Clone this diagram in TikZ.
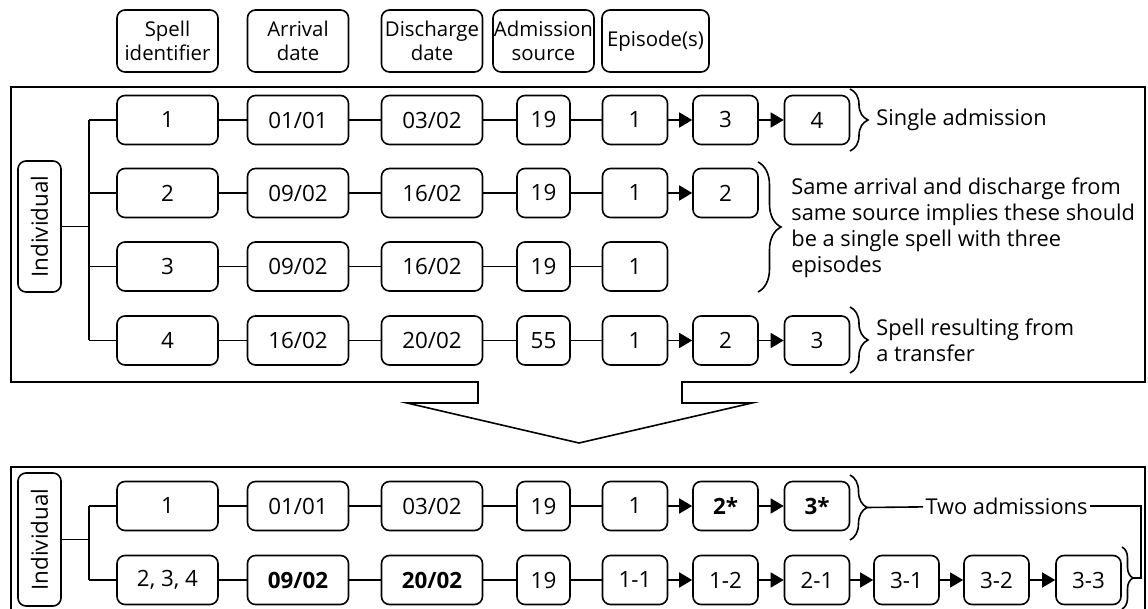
\documentclass[tikz,border=0pt]{standalone}
\usepackage{fontspec}
\setmainfont{Open Sans}
\usetikzlibrary{positioning}
\usetikzlibrary{arrows.meta}
\usetikzlibrary{decorations.pathreplacing}

\begin{document}
\begin{tikzpicture}[
    x=0.5pt, y=-0.5pt,
    cell/.style={draw, rounded corners=4pt, line width=0.8pt, inner sep=0pt, minimum height=24.5pt, font=\fontsize{11.2}{13}\selectfont},
    head/.style={cell, minimum height=31pt, align=center, font=\fontsize{10.2}{12}\selectfont},
    wide/.style={minimum width=50.5pt},
    src/.style={minimum width=26.5pt},
    epi/.style={minimum width=32.5pt},
    plainlink/.style={line width=0.8pt},
    epiarrow/.style={line width=0.8pt, -{Triangle[length=6.5pt,width=7.5pt]}},
    frame/.style={line width=0.8pt},
    brc/.style={decorate, line width=0.8pt, decoration={brace, amplitude=#1}},
    note/.style={anchor=west, align=left, inner sep=1pt, font=\fontsize{10.9}{13}\selectfont}
]
    \useasboundingbox (0,0) rectangle (1148,609);

    % column headings
    \node[head, wide] (hs) at (167.5,41) {Spell\\identifier};
    \node[head, wide] (ha) at (298,41) {Arrival\\date};
    \node[head, wide] (hd) at (432,41) {Discharge\\date};
    \node[head, wide] (hsrc) at (543.5,41) {Admission\\source};
    \node[head, minimum width=53.5pt] (he) at (655.5,41) {Episode(s)};

    % upper frame with the funnel
    \draw[frame] (478,382) -- (11,382) -- (11,87) -- (1145,87) -- (1145,382) -- (682,382)
        -- (682,403) -- (752,403) -- (579,443) -- (407,403) -- (478,403) -- cycle;

    \node[cell, minimum width=21.5pt, minimum height=65.5pt] (ind1) at (39.5,226.5) {\rotatebox{90}{Individual}};

    \node[cell, wide] (s1) at (167.5,120) {1};
    \node[cell, wide] (a1) at (298,120) {01/01};
    \node[cell, wide] (d1) at (432,120) {03/02};
    \node[cell, src] (src1) at (543.5,120) {19};
    \node[cell, epi] (e11) at (635,120) {1};
    \node[cell, epi] (e12) at (725.5,120) {3};
    \node[cell, epi] (e13) at (817,120) {4};

    \node[cell, wide] (s2) at (167.5,193) {2};
    \node[cell, wide] (a2) at (298,193) {09/02};
    \node[cell, wide] (d2) at (432,193) {16/02};
    \node[cell, src] (src2) at (543.5,193) {19};
    \node[cell, epi] (e21) at (635,193) {1};
    \node[cell, epi] (e22) at (725.5,193) {2};

    \node[cell, wide] (s3) at (167.5,266.5) {3};
    \node[cell, wide] (a3) at (298,266.5) {09/02};
    \node[cell, wide] (d3) at (432,266.5) {16/02};
    \node[cell, src] (src3) at (543.5,266.5) {19};
    \node[cell, epi] (e31) at (635,266.5) {1};

    \node[cell, wide] (s4) at (167.5,340.5) {4};
    \node[cell, wide] (a4) at (298,340.5) {16/02};
    \node[cell, wide] (d4) at (432,340.5) {20/02};
    \node[cell, src] (src4) at (543.5,340.5) {55};
    \node[cell, epi] (e41) at (635,340.5) {1};
    \node[cell, epi] (e42) at (725.5,340.5) {2};
    \node[cell, epi] (e43) at (817,340.5) {3};

    \coordinate (bt1) at (89,120);
    \coordinate (bb1) at (89,340.5);
    \draw[plainlink] (bt1) -- (bb1);
    \draw[plainlink] (ind1) -- (ind1 -| bt1);
    \foreach \r in {1,...,4} {
        \draw[plainlink] (bt1 |- s\r) -- (s\r);
        \draw[plainlink] (s\r) -- (a\r);
        \draw[plainlink] (a\r) -- (d\r);
        \draw[plainlink] (d\r) -- (src\r);
        \draw[plainlink] (src\r) -- (e\r1);
    }
    \draw[epiarrow] (e11) -- (e12);
    \draw[epiarrow] (e12) -- (e13);
    \draw[epiarrow] (e21) -- (e22);
    \draw[epiarrow] (e41) -- (e42);
    \draw[epiarrow] (e42) -- (e43);

    % notes on the right
    \draw[brc=9pt] (850,89) -- (850,151);
    \node[note] (n1) at (874,120) {Single admission};
    \draw[brc=11.5pt] (758,162) -- (758,292);
    \node[note] (n2) at (789,228) {Same arrival and discharge from\\same source implies these should\\be a single spell with three\\episodes};
    \draw[brc=9pt] (850,307) -- (850,373);
    \node[note] (n3) at (874,340) {Spell resulting from\\a transfer};

    % lower frame
    \draw[frame] (11,620) -- (11,467) -- (1145,467) -- (1145,620);

    \node[cell, minimum width=21.5pt, minimum height=66.5pt] (ind2) at (39.5,539.5) {\rotatebox{90}{Individual}};

    \node[cell, wide] (bs1) at (167.5,506) {1};
    \node[cell, wide] (ba1) at (298,506) {01/01};
    \node[cell, wide] (bd1) at (432,506) {03/02};
    \node[cell, src] (bsrc1) at (543.5,506) {19};
    \node[cell, epi] (be11) at (635,506) {1};
    \node[cell, epi] (be12) at (725.5,506) {\textbf{2*}};
    \node[cell, epi] (be13) at (817,506) {\textbf{3*}};

    \node[cell, wide] (bs2) at (167.5,580) {2, 3, 4};
    \node[cell, wide] (ba2) at (298,580) {\textbf{09/02}};
    \node[cell, wide] (bd2) at (432,580) {\textbf{20/02}};
    \node[cell, src] (bsrc2) at (543.5,580) {19};
    \node[cell, epi] (be21) at (635,580) {1-1};
    \node[cell, epi] (be22) at (725.5,580) {1-2};
    \node[cell, epi] (be23) at (817,580) {2-1};
    \node[cell, epi] (be24) at (906.5,580) {3-1};
    \node[cell, epi] (be25) at (996.5,580) {3-2};
    \node[cell, epi] (be26) at (1088.5,580) {3-3};

    \coordinate (bt2) at (89,506);
    \coordinate (bb2) at (89,580);
    \draw[plainlink] (bt2) -- (bb2);
    \draw[plainlink] (ind2) -- (ind2 -| bt2);
    \foreach \r in {1,2} {
        \draw[plainlink] (bt2 |- bs\r) -- (bs\r);
        \draw[plainlink] (bs\r) -- (ba\r);
        \draw[plainlink] (ba\r) -- (bd\r);
        \draw[plainlink] (bd\r) -- (bsrc\r);
        \draw[plainlink] (bsrc\r) -- (be\r1);
    }
    \draw[epiarrow] (be11) -- (be12);
    \draw[epiarrow] (be12) -- (be13);
    \foreach \i [count=\j from 2] in {1,...,5}
        \draw[epiarrow] (be2\i) -- (be2\j);

    \draw[brc=8.5pt] (850,475) -- (850,540);
    \draw[brc=5.5pt] (1122,547) -- (1122,609);
    \coordinate (tip1) at (867,507.5);
    \coordinate (tip2) at (1133,578);
    \coordinate (turn) at (1141,507.5);
    \node[note, anchor=center] (two) at (1006.5,506) {Two admissions};
    \draw[plainlink] (tip1) -- (two);
    \draw[plainlink] (two) -- (two -| turn) -- (turn |- tip2) -- (tip2);
\end{tikzpicture}
\end{document}
